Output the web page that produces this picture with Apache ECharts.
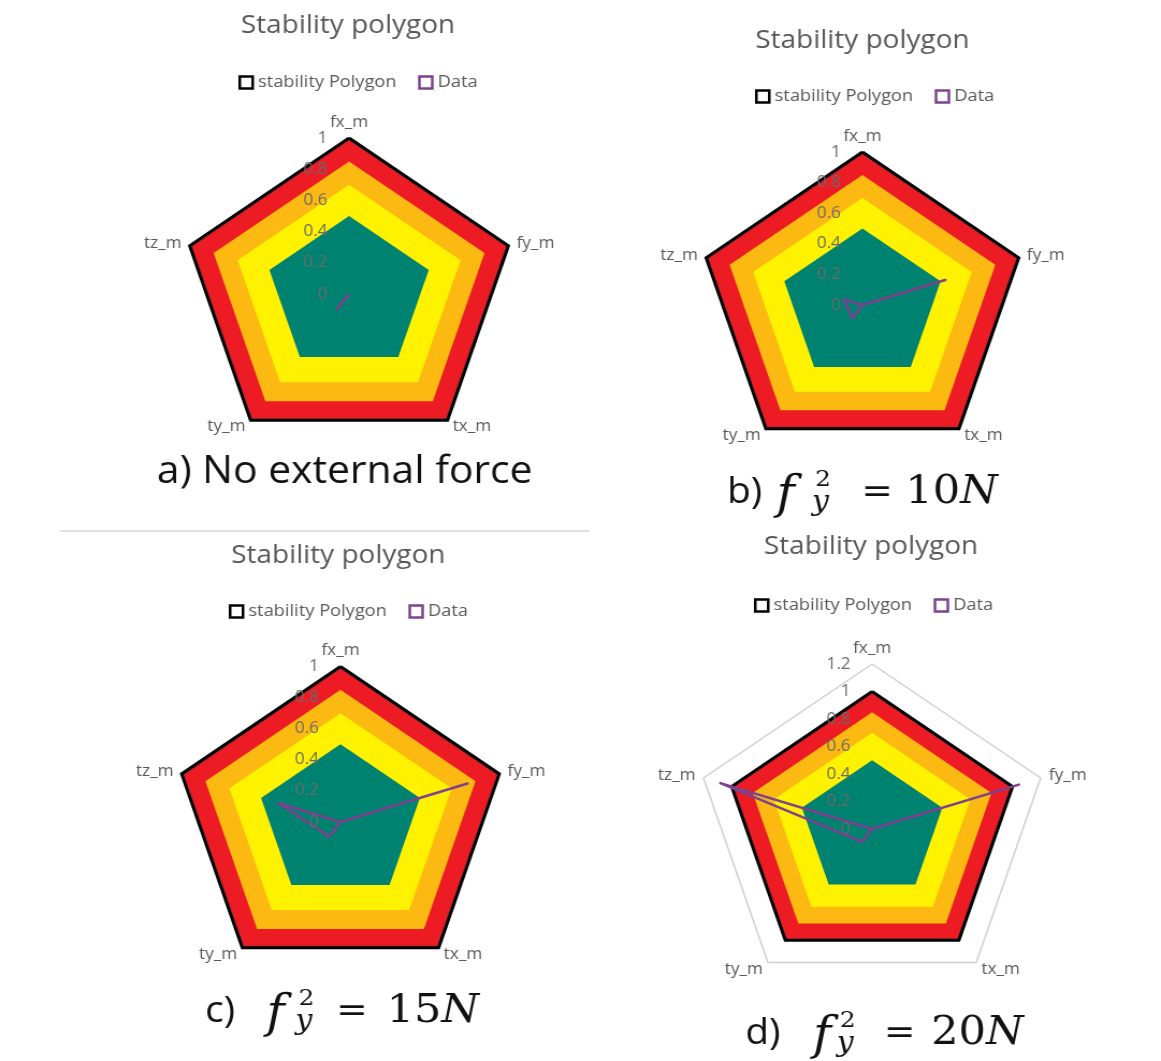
<!DOCTYPE html>
<html>
<head>
<meta charset="utf-8">
<script src="https://cdn.jsdelivr.net/npm/echarts@6/dist/echarts.min.js"></script>
<style>
  html, body { margin: 0; padding: 0; background: #fff; overflow: hidden; }
  #chart { width: 1081px; height: 1061px; transform: scaleX(1.074); transform-origin: 0 0; }
</style>
</head>
<body>
<div id="chart"></div>
<script>
// Axes of the stability polygon, clockwise from the top
const axisNames = ['fx_m', 'fy_m', 'tx_m', 'ty_m', 'tz_m'];

// Stability zones, outer limit first
const zoneLevels = [1, 0.98, 0.85, 0.7, 0.5];
const limitLevel = 1;

// Normalised margins for each load case (fx_m, fy_m, tx_m, ty_m, tz_m)
const dataNoForce = [0, 0, 0, 0.12, 0];
const dataFy10 = [0, 0.53, 0, 0.105, 0.12];
const dataFy15 = [0, 0.80, 0, 0.115, 0.39];
const dataFy20 = [0, 1.045, 0, 0.115, 1.08];

// Radial axis maximum and number of 0.2 steps per panel
const axisMaxes = [1, 1, 1, 1.2];
const axisSteps = [5, 5, 5, 6];

const chartTitle = 'Stability polygon';
const legendNames = ['stability Polygon', 'Data'];
const captionA = 'a) No external force';
const captionLabels = ['b)', 'c)', 'd)'];
const forceValues = ['10', '15', '20'];

// ---- styling / layout ----
const zoneColors = ['#C0272D', '#ED1C24', '#FBB912', '#FFF200', '#008270'];
const dataColor = '#7E4190';
const sans = "'Open Sans'";
const serif = "'DejaVu Serif'";

const panels = [
  { values: dataNoForce, center: [325, 294], radius: 156, title: [324, 26], legend: [217, 69] },
  { values: dataFy10, center: [803, 305], radius: 153, title: [803, 41], legend: [698, 83] },
  { values: dataFy15, center: [317, 822], radius: 155.5, title: [315, 556], legend: [208, 598] },
  { values: dataFy20, center: [812, 829], radius: 165, title: [811, 547], legend: [697, 592] }
];

// ECharts lays radar indicators out counter-clockwise
const drawOrder = [0, 4, 3, 2, 1];
const toDrawOrder = arr => drawOrder.map(i => arr[i]);
const ring = v => axisNames.map(() => v);
const tickText = v => String(Math.round(v * 10) / 10);

function ringColors(i) {
  const n = axisSteps[i] + 1;
  return Array.from({ length: n }, (_, k) =>
    (k === n - 1 && axisMaxes[i] > limitLevel) ? '#D3CFCF' : 'rgba(0,0,0,0)');
}

const radars = panels.map((p, i) => ({
  center: p.center,
  radius: p.radius,
  startAngle: 90,
  shape: 'polygon',
  splitNumber: axisSteps[i],
  z: 5,
  indicator: drawOrder.map((ai, k) => ({
    name: axisNames[ai], min: 0, max: axisMaxes[i],
    axisLabel: { show: k === 0 }
  })),
  axisName: { color: '#595959', fontSize: 16, fontFamily: 'Open Sans' },
  nameGap: 8,
  axisLine: { show: false },
  axisTick: { show: false },
  axisLabel: { show: true, color: '#6b6b6b', fontSize: 16, fontFamily: 'Open Sans', margin: 20, formatter: tickText },
  splitLine: { show: true, lineStyle: { color: ringColors(i), width: 1.5 } },
  splitArea: { show: false }
}));

const series = panels.map((p, i) => ({
  type: 'radar',
  radarIndex: i,
  symbol: 'none',
  silent: true,
  data: [
    ...zoneLevels.map((lv, k) => ({
      name: 'zone ' + lv,
      value: ring(lv),
      lineStyle: { width: 0, opacity: 0 },
      itemStyle: { color: zoneColors[k] },
      areaStyle: { color: zoneColors[k], opacity: 1 }
    })),
    {
      name: legendNames[0],
      value: ring(limitLevel),
      lineStyle: { color: '#000', width: 3, join: 'miter' },
      itemStyle: { color: '#000' }
    },
    {
      name: legendNames[1],
      value: toDrawOrder(p.values),
      lineStyle: { color: dataColor, width: 2.5 },
      itemStyle: { color: dataColor }
    }
  ]
}));

const legends = panels.map(p => ({
  left: p.legend[0],
  top: p.legend[1],
  itemWidth: 12,
  itemHeight: 12,
  itemGap: 20,
  icon: 'rect',
  selectedMode: false,
  textStyle: { fontSize: 17, color: '#595959', fontFamily: 'Open Sans' },
  data: [
    { name: legendNames[0], icon: 'rect', itemStyle: { color: '#fff', borderColor: '#000', borderWidth: 2.5 } },
    { name: legendNames[1], icon: 'rect', itemStyle: { color: '#fff', borderColor: dataColor, borderWidth: 2.5 } }
  ]
}));

// Caption of the form  "b)  f_y^2 = 10N"
function forceCaption(label, value, left, cy, off) {
  return {
    type: 'group', x: left, y: cy,
    children: [
      { type: 'text', x: 0, y: 0, style: { text: label, font: '36px ' + sans, fill: '#111', verticalAlign: 'middle' } },
      { type: 'text', x: off.f, y: 3, style: { text: 'f', font: 'italic 46px ' + serif, fill: '#111', verticalAlign: 'middle' } },
      { type: 'text', x: off.sup, y: -13, style: { text: '2', font: '23px ' + serif, fill: '#111', verticalAlign: 'middle' } },
      { type: 'text', x: off.sup - 3, y: 10, style: { text: 'y', font: 'italic 28px ' + serif, fill: '#111', verticalAlign: 'middle' } },
      { type: 'text', x: off.eq, y: 0, style: { text: '=', font: '35px ' + serif, fill: '#111', verticalAlign: 'middle' } },
      { type: 'text', x: off.num, y: 0, style: {
          text: '{n|' + value + '}{i|N}', fill: '#111', verticalAlign: 'middle',
          rich: {
            n: { fontFamily: 'DejaVu Serif', fontSize: 40, color: '#111' },
            i: { fontFamily: 'DejaVu Serif', fontSize: 40, fontStyle: 'italic', color: '#111' }
          }
      } }
    ]
  };
}

const graphics = [
  ...panels.map(p => ({
    type: 'text', x: p.title[0], y: p.title[1],
    style: { text: chartTitle, font: '26px ' + sans, fill: '#595959', align: 'center', verticalAlign: 'middle' }
  })),
  { type: 'text', x: 321, y: 472, style: { text: captionA, font: '38px ' + sans, fill: '#111', align: 'center', verticalAlign: 'middle' } },
  forceCaption(captionLabels[0], forceValues[0], 677, 493, { f: 46, sup: 82, eq: 125, num: 166 }),
  forceCaption(captionLabels[1], forceValues[1], 191, 1012, { f: 57, sup: 87, eq: 122, num: 169 }),
  forceCaption(captionLabels[2], forceValues[2], 694, 1034, { f: 63, sup: 88, eq: 129, num: 173 }),
  { type: 'line', shape: { x1: 56, y1: 531, x2: 549, y2: 531 }, style: { stroke: '#DAD6D6', lineWidth: 1.5 } }
];

const chart = echarts.init(document.getElementById('chart'), null, { renderer: 'canvas' });
chart.setOption({
  animation: false,
  backgroundColor: '#fff',
  textStyle: { fontFamily: 'Open Sans' },
  radar: radars,
  legend: legends,
  series: series,
  graphic: graphics
});
</script>
</body>
</html>
